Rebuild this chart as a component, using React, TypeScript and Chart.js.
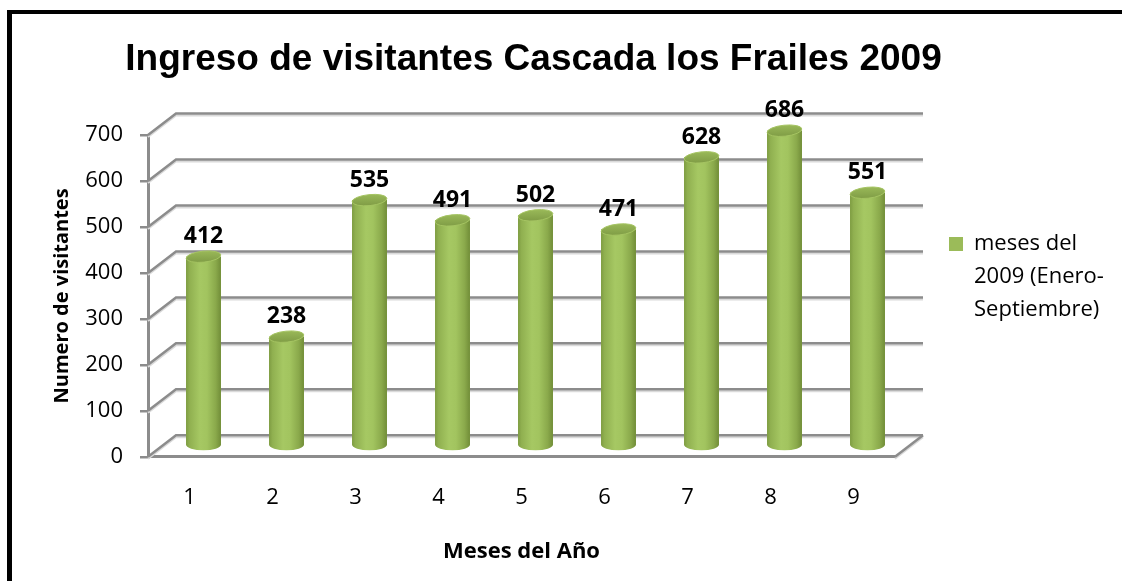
import React, { useEffect, useRef } from 'react';
import { Chart, registerables } from 'chart.js';

Chart.register(...registerables);

// ---- data ----
const months = ['1', '2', '3', '4', '5', '6', '7', '8', '9'];
const visitors = [412, 238, 535, 491, 502, 471, 628, 686, 551];
const legendLines = ['meses del', '2009 (Enero-', 'Septiembre)'];
const chartTitle = 'Ingreso de visitantes Cascada los Frailes 2009';
const xTitle = 'Meses del Año';
const yTitle = 'Numero de visitantes';
const yMin = 0;
const yMax = 700;
const yStep = 100;

// ---- style / layout ----
const FONT = '"Open Sans", "DejaVu Sans", sans-serif';
const TITLE_FONT = '"Liberation Sans", Arial, sans-serif';
const BAR_COLOR = '#9BBB59';
const GRID = '#8C8C8C';
const DX = 28;
const DY = -21.5;
const CANVAS_W = 1110;
const CANVAS_H = 567;
const AREA_LEFT = 136;
const AREA_RIGHT = 883;
const TITLE_CENTER = 521.5;
const LEGEND_SIZE = 22;
const LEGEND_PAD = 54;
const LEGEND_BOX = 14;

const cylinderPlugin = {
  id: 'cylinder3d',
  beforeDatasetsDraw(chart: any) {
    const { ctx, chartArea, scales } = chart;
    const ys = scales.y;
    ctx.save();
    ctx.lineCap = 'butt';
    ctx.lineJoin = 'miter';
    const drawWall = (color: string, width: number, off: number) => {
      ctx.strokeStyle = color;
      ctx.lineWidth = width;
      for (const t of ys.ticks) {
        const py = ys.getPixelForValue(t.value) + off;
        ctx.beginPath();
        ctx.moveTo(chartArea.left, py);
        ctx.lineTo(chartArea.left + DX, py + DY);
        ctx.lineTo(chartArea.right + DX, py + DY);
        ctx.stroke();
      }
      ctx.beginPath();
      ctx.moveTo(chartArea.right, chartArea.bottom + off);
      ctx.lineTo(chartArea.right + DX, chartArea.bottom + DY + off);
      ctx.stroke();
    };
    drawWall('#DADADA', 2, 2);
    drawWall(GRID, 2.5, 0);
    ctx.restore();
    ctx.save();
    ctx.translate(DX / 2, DY / 2);
  },
  afterDatasetsDraw(chart: any) {
    const { ctx } = chart;
    const meta = chart.getDatasetMeta(0);
    const values = chart.data.datasets[0].data as number[];
    meta.data.forEach((el: any, i: number) => {
      const { x, y, base, width } = el.getProps(['x', 'y', 'base', 'width'], true);
      const rx = width / 2;
      const ry = 5.5;
      const left = x - rx;
      const right = x + rx;
      const g = ctx.createLinearGradient(left, 0, right, 0);
      g.addColorStop(0, '#7E9C42');
      g.addColorStop(0.1, '#90B050');
      g.addColorStop(0.4, '#A6C863');
      g.addColorStop(0.6, '#A2C45F');
      g.addColorStop(0.85, '#8AA94B');
      g.addColorStop(1, '#718D38');
      ctx.fillStyle = g;
      ctx.beginPath();
      ctx.moveTo(left, y);
      ctx.lineTo(left, base);
      ctx.ellipse(x, base, rx, ry, 0, Math.PI, 0, true);
      ctx.lineTo(right, y);
      ctx.closePath();
      ctx.fill();
      // top cap
      const gc = ctx.createLinearGradient(0, y - ry, 0, y + ry);
      gc.addColorStop(0, '#99B858');
      gc.addColorStop(1, '#809D46');
      ctx.fillStyle = gc;
      ctx.beginPath();
      ctx.ellipse(x, y, rx, ry, -0.1, 0, Math.PI * 2);
      ctx.fill();
      ctx.strokeStyle = '#A5C462';
      ctx.lineWidth = 1;
      ctx.stroke();
      // value label
      ctx.fillStyle = '#000';
      ctx.font = 'bold 23px ' + FONT;
      ctx.textAlign = 'center';
      ctx.textBaseline = 'alphabetic';
      ctx.fillText(String(values[i]), x, y - ry - 8);
    });
    ctx.restore();
  },
};

export default function App() {
  const ref = useRef<HTMLCanvasElement>(null);
  useEffect(() => {
    if (!ref.current) return;
    Chart.defaults.font.family = FONT;
    Chart.defaults.color = '#000';

    // legend box width as Chart.js computes it (padding + box + gap + longest line + 10)
    const mctx = document.createElement('canvas').getContext('2d')!;
    mctx.font = `${LEGEND_SIZE}px ${FONT}`;
    const longest = legendLines.reduce((a, b) => (a.length > b.length ? a : b));
    const legendW = LEGEND_PAD + 10 + LEGEND_BOX + LEGEND_SIZE / 2 + mctx.measureText(longest).width;
    const padRight = CANVAS_W - AREA_RIGHT - legendW;
    const padLeft = 2 * TITLE_CENTER - (CANVAS_W - padRight);
    const yAxisW = AREA_LEFT - padLeft;

    const chart = new Chart(ref.current, {
      type: 'bar',
      data: {
        labels: months,
        datasets: [
          {
            label: legendLines.join(' '),
            data: visitors,
            backgroundColor: BAR_COLOR,
            borderWidth: 0,
            barPercentage: 0.5,
            categoryPercentage: 0.84,
            clip: false as any,
          },
        ],
      },
      options: {
        animation: false,
        responsive: true,
        maintainAspectRatio: false,
        layout: { padding: { left: padLeft, right: padRight, top: 0, bottom: 0 } },
        plugins: {
          title: {
            display: true,
            text: chartTitle,
            color: '#000',
            font: { family: TITLE_FONT, size: 37, weight: 'bold', lineHeight: 1.2 },
            padding: { top: 23.3, bottom: 53.3 },
          },
          legend: {
            display: true,
            position: 'right',
            align: 'start',
            fullSize: false,
            title: { display: true, text: '', padding: { top: 29.6, bottom: 0 }, font: { size: 12, lineHeight: 1.2 } },
            labels: {
              boxWidth: LEGEND_BOX,
              boxHeight: LEGEND_BOX,
              padding: LEGEND_PAD,
              color: '#000',
              font: { family: FONT, size: LEGEND_SIZE, lineHeight: 1.5 },
              generateLabels: () => [
                {
                  text: legendLines as any,
                  fillStyle: BAR_COLOR,
                  strokeStyle: BAR_COLOR,
                  lineWidth: 0,
                  hidden: false,
                  datasetIndex: 0,
                  fontColor: '#000',
                  textAlign: 'left',
                } as any,
              ],
            },
          },
          tooltip: { enabled: false },
        },
        scales: {
          x: {
            offset: true,
            grid: { display: false, drawTicks: false },
            border: { display: true, color: GRID, width: 3 },
            ticks: { color: '#000', padding: 27.8, font: { family: FONT, size: 22, lineHeight: 1.2 } },
            title: {
              display: true,
              text: xTitle,
              color: '#000',
              font: { family: FONT, size: 22, weight: 'bold', lineHeight: 1.2 },
              padding: { top: 0, bottom: 15.8 },
            },
          },
          y: {
            min: yMin,
            max: yMax,
            afterFit: (scale: any) => {
              scale.width = yAxisW;
            },
            grid: {
              display: true,
              drawOnChartArea: false,
              drawTicks: true,
              tickLength: 8,
              color: GRID,
              lineWidth: 2.5,
            },
            border: { display: true, color: GRID, width: 3 },
            ticks: {
              stepSize: yStep,
              color: '#000',
              padding: 17,
              font: { family: FONT, size: 22, lineHeight: 1.2 },
            },
            title: {
              display: true,
              text: yTitle,
              color: '#000',
              font: { family: FONT, size: 20, weight: 'bold', lineHeight: 1.2 },
              padding: { top: 38 - padLeft, bottom: 0 },
            },
          },
        },
      },
      plugins: [cylinderPlugin],
    });
    return () => chart.destroy();
  }, []);

  return (
    <div
      style={{
        position: 'absolute',
        left: 7,
        top: 10,
        width: CANVAS_W,
        height: CANVAS_H,
        borderLeft: '5px solid #000',
        borderTop: '4px solid #000',
        background: '#fff',
      }}
    >
      <div style={{ position: 'relative', width: CANVAS_W, height: CANVAS_H }}>
        <canvas ref={ref} />
      </div>
    </div>
  );
}
